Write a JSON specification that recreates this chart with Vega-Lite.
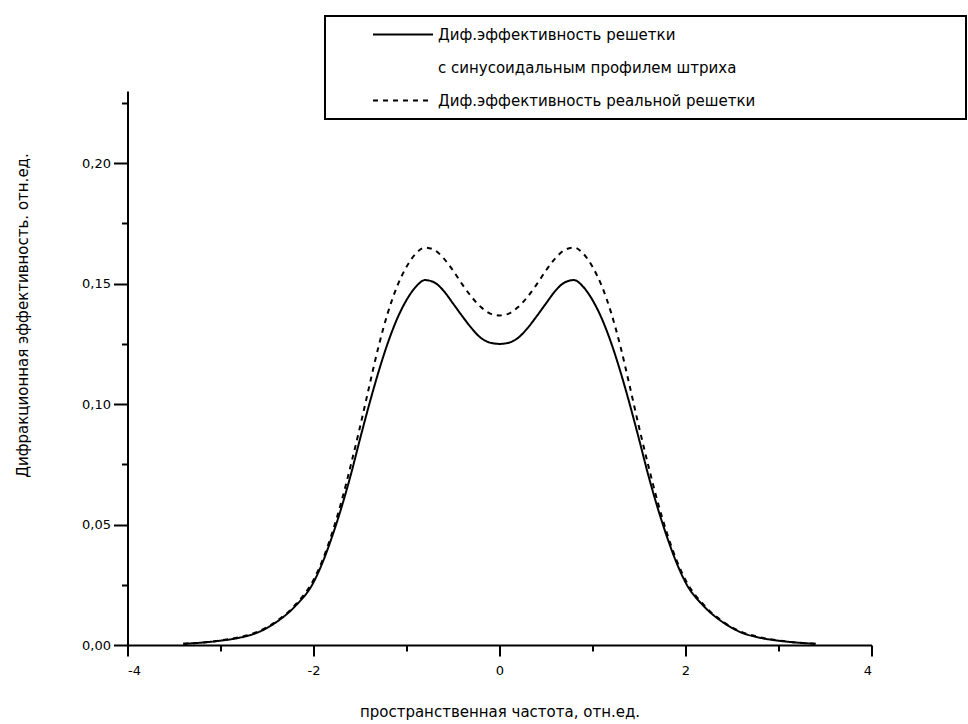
{
  "$schema": "https://vega.github.io/schema/vega-lite/v6.json",
  "width": 744,
  "height": 554,
  "autosize": {"type": "none"},
  "padding": {"left": 127.5, "top": 91, "right": 96.5, "bottom": 79},
  "background": "white",
  "config": {
    "view": {"stroke": null},
    "font": "DejaVu Sans",
    "axis": {
      "grid": false,
      "domainColor": "black",
      "domainWidth": 2,
      "tickColor": "black",
      "tickWidth": 2,
      "labelColor": "black",
      "titleColor": "black",
      "labelFont": "DejaVu Sans",
      "titleFont": "DejaVu Sans",
      "titleFontWeight": "normal",
      "labelFontSize": 13,
      "titleFontSize": 15
    }
  },
  "datasets": {
    "curves": [
      {"x": -3.4, "y": 0.0005, "series": "Диф.эффективность решетки"},
      {"x": -3.2, "y": 0.001, "series": "Диф.эффективность решетки"},
      {"x": -3.0, "y": 0.0018, "series": "Диф.эффективность решетки"},
      {"x": -2.8, "y": 0.003, "series": "Диф.эффективность решетки"},
      {"x": -2.6, "y": 0.0052, "series": "Диф.эффективность решетки"},
      {"x": -2.4, "y": 0.0095, "series": "Диф.эффективность решетки"},
      {"x": -2.2, "y": 0.016, "series": "Диф.эффективность решетки"},
      {"x": -2.0, "y": 0.026, "series": "Диф.эффективность решетки"},
      {"x": -1.9, "y": 0.0345, "series": "Диф.эффективность решетки"},
      {"x": -1.8, "y": 0.045, "series": "Диф.эффективность решетки"},
      {"x": -1.7, "y": 0.057, "series": "Диф.эффективность решетки"},
      {"x": -1.6, "y": 0.0705, "series": "Диф.эффективность решетки"},
      {"x": -1.5, "y": 0.0855, "series": "Диф.эффективность решетки"},
      {"x": -1.4, "y": 0.1, "series": "Диф.эффективность решетки"},
      {"x": -1.3, "y": 0.1135, "series": "Диф.эффективность решетки"},
      {"x": -1.2, "y": 0.1255, "series": "Диф.эффективность решетки"},
      {"x": -1.1, "y": 0.1355, "series": "Диф.эффективность решетки"},
      {"x": -1.0, "y": 0.1432, "series": "Диф.эффективность решетки"},
      {"x": -0.9, "y": 0.1487, "series": "Диф.эффективность решетки"},
      {"x": -0.8, "y": 0.1515, "series": "Диф.эффективность решетки"},
      {"x": -0.7, "y": 0.1505, "series": "Диф.эффективность решетки"},
      {"x": -0.6, "y": 0.147, "series": "Диф.эффективность решетки"},
      {"x": -0.5, "y": 0.1418, "series": "Диф.эффективность решетки"},
      {"x": -0.4, "y": 0.1365, "series": "Диф.эффективность решетки"},
      {"x": -0.3, "y": 0.1315, "series": "Диф.эффективность решетки"},
      {"x": -0.2, "y": 0.1275, "series": "Диф.эффективность решетки"},
      {"x": -0.1, "y": 0.1255, "series": "Диф.эффективность решетки"},
      {"x": 0.0, "y": 0.125, "series": "Диф.эффективность решетки"},
      {"x": 0.1, "y": 0.1255, "series": "Диф.эффективность решетки"},
      {"x": 0.2, "y": 0.1275, "series": "Диф.эффективность решетки"},
      {"x": 0.3, "y": 0.1315, "series": "Диф.эффективность решетки"},
      {"x": 0.4, "y": 0.1365, "series": "Диф.эффективность решетки"},
      {"x": 0.5, "y": 0.1418, "series": "Диф.эффективность решетки"},
      {"x": 0.6, "y": 0.147, "series": "Диф.эффективность решетки"},
      {"x": 0.7, "y": 0.1505, "series": "Диф.эффективность решетки"},
      {"x": 0.8, "y": 0.1515, "series": "Диф.эффективность решетки"},
      {"x": 0.9, "y": 0.1487, "series": "Диф.эффективность решетки"},
      {"x": 1.0, "y": 0.1432, "series": "Диф.эффективность решетки"},
      {"x": 1.1, "y": 0.1355, "series": "Диф.эффективность решетки"},
      {"x": 1.2, "y": 0.1255, "series": "Диф.эффективность решетки"},
      {"x": 1.3, "y": 0.1135, "series": "Диф.эффективность решетки"},
      {"x": 1.4, "y": 0.1, "series": "Диф.эффективность решетки"},
      {"x": 1.5, "y": 0.0855, "series": "Диф.эффективность решетки"},
      {"x": 1.6, "y": 0.0705, "series": "Диф.эффективность решетки"},
      {"x": 1.7, "y": 0.057, "series": "Диф.эффективность решетки"},
      {"x": 1.8, "y": 0.045, "series": "Диф.эффективность решетки"},
      {"x": 1.9, "y": 0.0345, "series": "Диф.эффективность решетки"},
      {"x": 2.0, "y": 0.026, "series": "Диф.эффективность решетки"},
      {"x": 2.2, "y": 0.016, "series": "Диф.эффективность решетки"},
      {"x": 2.4, "y": 0.0095, "series": "Диф.эффективность решетки"},
      {"x": 2.6, "y": 0.0052, "series": "Диф.эффективность решетки"},
      {"x": 2.8, "y": 0.003, "series": "Диф.эффективность решетки"},
      {"x": 3.0, "y": 0.0018, "series": "Диф.эффективность решетки"},
      {"x": 3.2, "y": 0.001, "series": "Диф.эффективность решетки"},
      {"x": 3.4, "y": 0.0005, "series": "Диф.эффективность решетки"},
      {"x": -3.4, "y": 0.0005, "series": "Диф.эффективность реальной решетки"},
      {"x": -3.2, "y": 0.001, "series": "Диф.эффективность реальной решетки"},
      {"x": -3.0, "y": 0.0019, "series": "Диф.эффективность реальной решетки"},
      {"x": -2.8, "y": 0.0032, "series": "Диф.эффективность реальной решетки"},
      {"x": -2.6, "y": 0.0055, "series": "Диф.эффективность реальной решетки"},
      {"x": -2.4, "y": 0.0098, "series": "Диф.эффективность реальной решетки"},
      {"x": -2.2, "y": 0.0165, "series": "Диф.эффективность реальной решетки"},
      {"x": -2.0, "y": 0.027, "series": "Диф.эффективность реальной решетки"},
      {"x": -1.9, "y": 0.0355, "series": "Диф.эффективность реальной решетки"},
      {"x": -1.8, "y": 0.0465, "series": "Диф.эффективность реальной решетки"},
      {"x": -1.7, "y": 0.0595, "series": "Диф.эффективность реальной решетки"},
      {"x": -1.6, "y": 0.0745, "series": "Диф.эффективность реальной решетки"},
      {"x": -1.5, "y": 0.0905, "series": "Диф.эффективность реальной решетки"},
      {"x": -1.4, "y": 0.1075, "series": "Диф.эффективность реальной решетки"},
      {"x": -1.3, "y": 0.124, "series": "Диф.эффективность реальной решетки"},
      {"x": -1.2, "y": 0.138, "series": "Диф.эффективность реальной решетки"},
      {"x": -1.1, "y": 0.149, "series": "Диф.эффективность реальной решетки"},
      {"x": -1.0, "y": 0.157, "series": "Диф.эффективность реальной решетки"},
      {"x": -0.9, "y": 0.1625, "series": "Диф.эффективность реальной решетки"},
      {"x": -0.8, "y": 0.165, "series": "Диф.эффективность реальной решетки"},
      {"x": -0.7, "y": 0.164, "series": "Диф.эффективность реальной решетки"},
      {"x": -0.6, "y": 0.1605, "series": "Диф.эффективность реальной решетки"},
      {"x": -0.5, "y": 0.1555, "series": "Диф.эффективность реальной решетки"},
      {"x": -0.4, "y": 0.1497, "series": "Диф.эффективность реальной решетки"},
      {"x": -0.3, "y": 0.1445, "series": "Диф.эффективность реальной решетки"},
      {"x": -0.2, "y": 0.1403, "series": "Диф.эффективность реальной решетки"},
      {"x": -0.1, "y": 0.1376, "series": "Диф.эффективность реальной решетки"},
      {"x": 0.0, "y": 0.1368, "series": "Диф.эффективность реальной решетки"},
      {"x": 0.1, "y": 0.1376, "series": "Диф.эффективность реальной решетки"},
      {"x": 0.2, "y": 0.1403, "series": "Диф.эффективность реальной решетки"},
      {"x": 0.3, "y": 0.1445, "series": "Диф.эффективность реальной решетки"},
      {"x": 0.4, "y": 0.1497, "series": "Диф.эффективность реальной решетки"},
      {"x": 0.5, "y": 0.1555, "series": "Диф.эффективность реальной решетки"},
      {"x": 0.6, "y": 0.1605, "series": "Диф.эффективность реальной решетки"},
      {"x": 0.7, "y": 0.164, "series": "Диф.эффективность реальной решетки"},
      {"x": 0.8, "y": 0.165, "series": "Диф.эффективность реальной решетки"},
      {"x": 0.9, "y": 0.1625, "series": "Диф.эффективность реальной решетки"},
      {"x": 1.0, "y": 0.157, "series": "Диф.эффективность реальной решетки"},
      {"x": 1.1, "y": 0.149, "series": "Диф.эффективность реальной решетки"},
      {"x": 1.2, "y": 0.138, "series": "Диф.эффективность реальной решетки"},
      {"x": 1.3, "y": 0.124, "series": "Диф.эффективность реальной решетки"},
      {"x": 1.4, "y": 0.1075, "series": "Диф.эффективность реальной решетки"},
      {"x": 1.5, "y": 0.0905, "series": "Диф.эффективность реальной решетки"},
      {"x": 1.6, "y": 0.0745, "series": "Диф.эффективность реальной решетки"},
      {"x": 1.7, "y": 0.0595, "series": "Диф.эффективность реальной решетки"},
      {"x": 1.8, "y": 0.0465, "series": "Диф.эффективность реальной решетки"},
      {"x": 1.9, "y": 0.0355, "series": "Диф.эффективность реальной решетки"},
      {"x": 2.0, "y": 0.027, "series": "Диф.эффективность реальной решетки"},
      {"x": 2.2, "y": 0.0165, "series": "Диф.эффективность реальной решетки"},
      {"x": 2.4, "y": 0.0098, "series": "Диф.эффективность реальной решетки"},
      {"x": 2.6, "y": 0.0055, "series": "Диф.эффективность реальной решетки"},
      {"x": 2.8, "y": 0.0032, "series": "Диф.эффективность реальной решетки"},
      {"x": 3.0, "y": 0.0019, "series": "Диф.эффективность реальной решетки"},
      {"x": 3.2, "y": 0.001, "series": "Диф.эффективность реальной решетки"},
      {"x": 3.4, "y": 0.0005, "series": "Диф.эффективность реальной решетки"}
    ]
  },
  "data": {"name": "curves"},
  "mark": {"type": "line", "color": "black", "strokeWidth": 2, "interpolate": "monotone"},
  "encoding": {
    "x": {
      "field": "x",
      "type": "quantitative",
      "scale": {"domain": [-4, 4], "nice": false, "zero": false},
      "axis": {
        "title": "пространственная частота, отн.ед.",
        "values": [-4, -3, -2, -1, 0, 1, 2, 3, 4],
        "tickSize": {"condition": {"test": "datum.value % 2 === 0", "value": 11}, "value": 6},
        "labelExpr": "datum.value % 2 === 0 ? '' + datum.value : ''",
        "labelPadding": 8,
        "titleY": 71,
        "titleBaseline": "alphabetic"
      }
    },
    "y": {
      "field": "y",
      "type": "quantitative",
      "scale": {"domain": [0, 0.23], "nice": false},
      "axis": {
        "title": "Дифракционная эффективность. отн.ед.",
        "values": [0, 0.025, 0.05, 0.075, 0.1, 0.125, 0.15, 0.175, 0.2, 0.225],
        "tickSize": {"condition": {"test": "round(datum.value * 1000) % 50 === 0", "value": 14}, "value": 6},
        "labelExpr": "round(datum.value * 1000) % 50 === 0 ? replace(format(datum.value, '.2f'), '.', ',') : ''",
        "labelPadding": 3,
        "titleX": -100,
        "titleY": 224,
        "titleBaseline": "alphabetic"
      }
    },
    "strokeDash": {
      "field": "series",
      "type": "nominal",
      "scale": {
        "domain": ["Диф.эффективность решетки", "с синусоидальным профилем штриха", "Диф.эффективность реальной решетки"],
        "range": [[1, 0], [1, 0], [5, 5]]
      },
      "legend": {
        "title": null,
        "orient": "none",
        "legendX": 197.5,
        "legendY": -75,
        "strokeColor": "black",
        "padding": 10,
        "symbolType": "stroke",
        "symbolSize": 3600,
        "symbolStrokeWidth": 2,
        "symbolStrokeColor": "black",
        "symbolOffset": 37,
        "clipHeight": 17,
        "labelFontSize": 15,
        "labelFont": "DejaVu Sans",
        "labelColor": "black",
        "labelOffset": 4,
        "labelLimit": 900,
        "rowPadding": 16,
        "encode": {
          "symbols": {"update": {"opacity": {"signal": "datum.value === 'с синусоидальным профилем штриха' ? 0 : 1"}}},
          "entries": {"update": {"width": {"value": 621}}},
          "legend": {"update": {"strokeWidth": {"value": 2}}}
        }
      }
    }
  }
}
